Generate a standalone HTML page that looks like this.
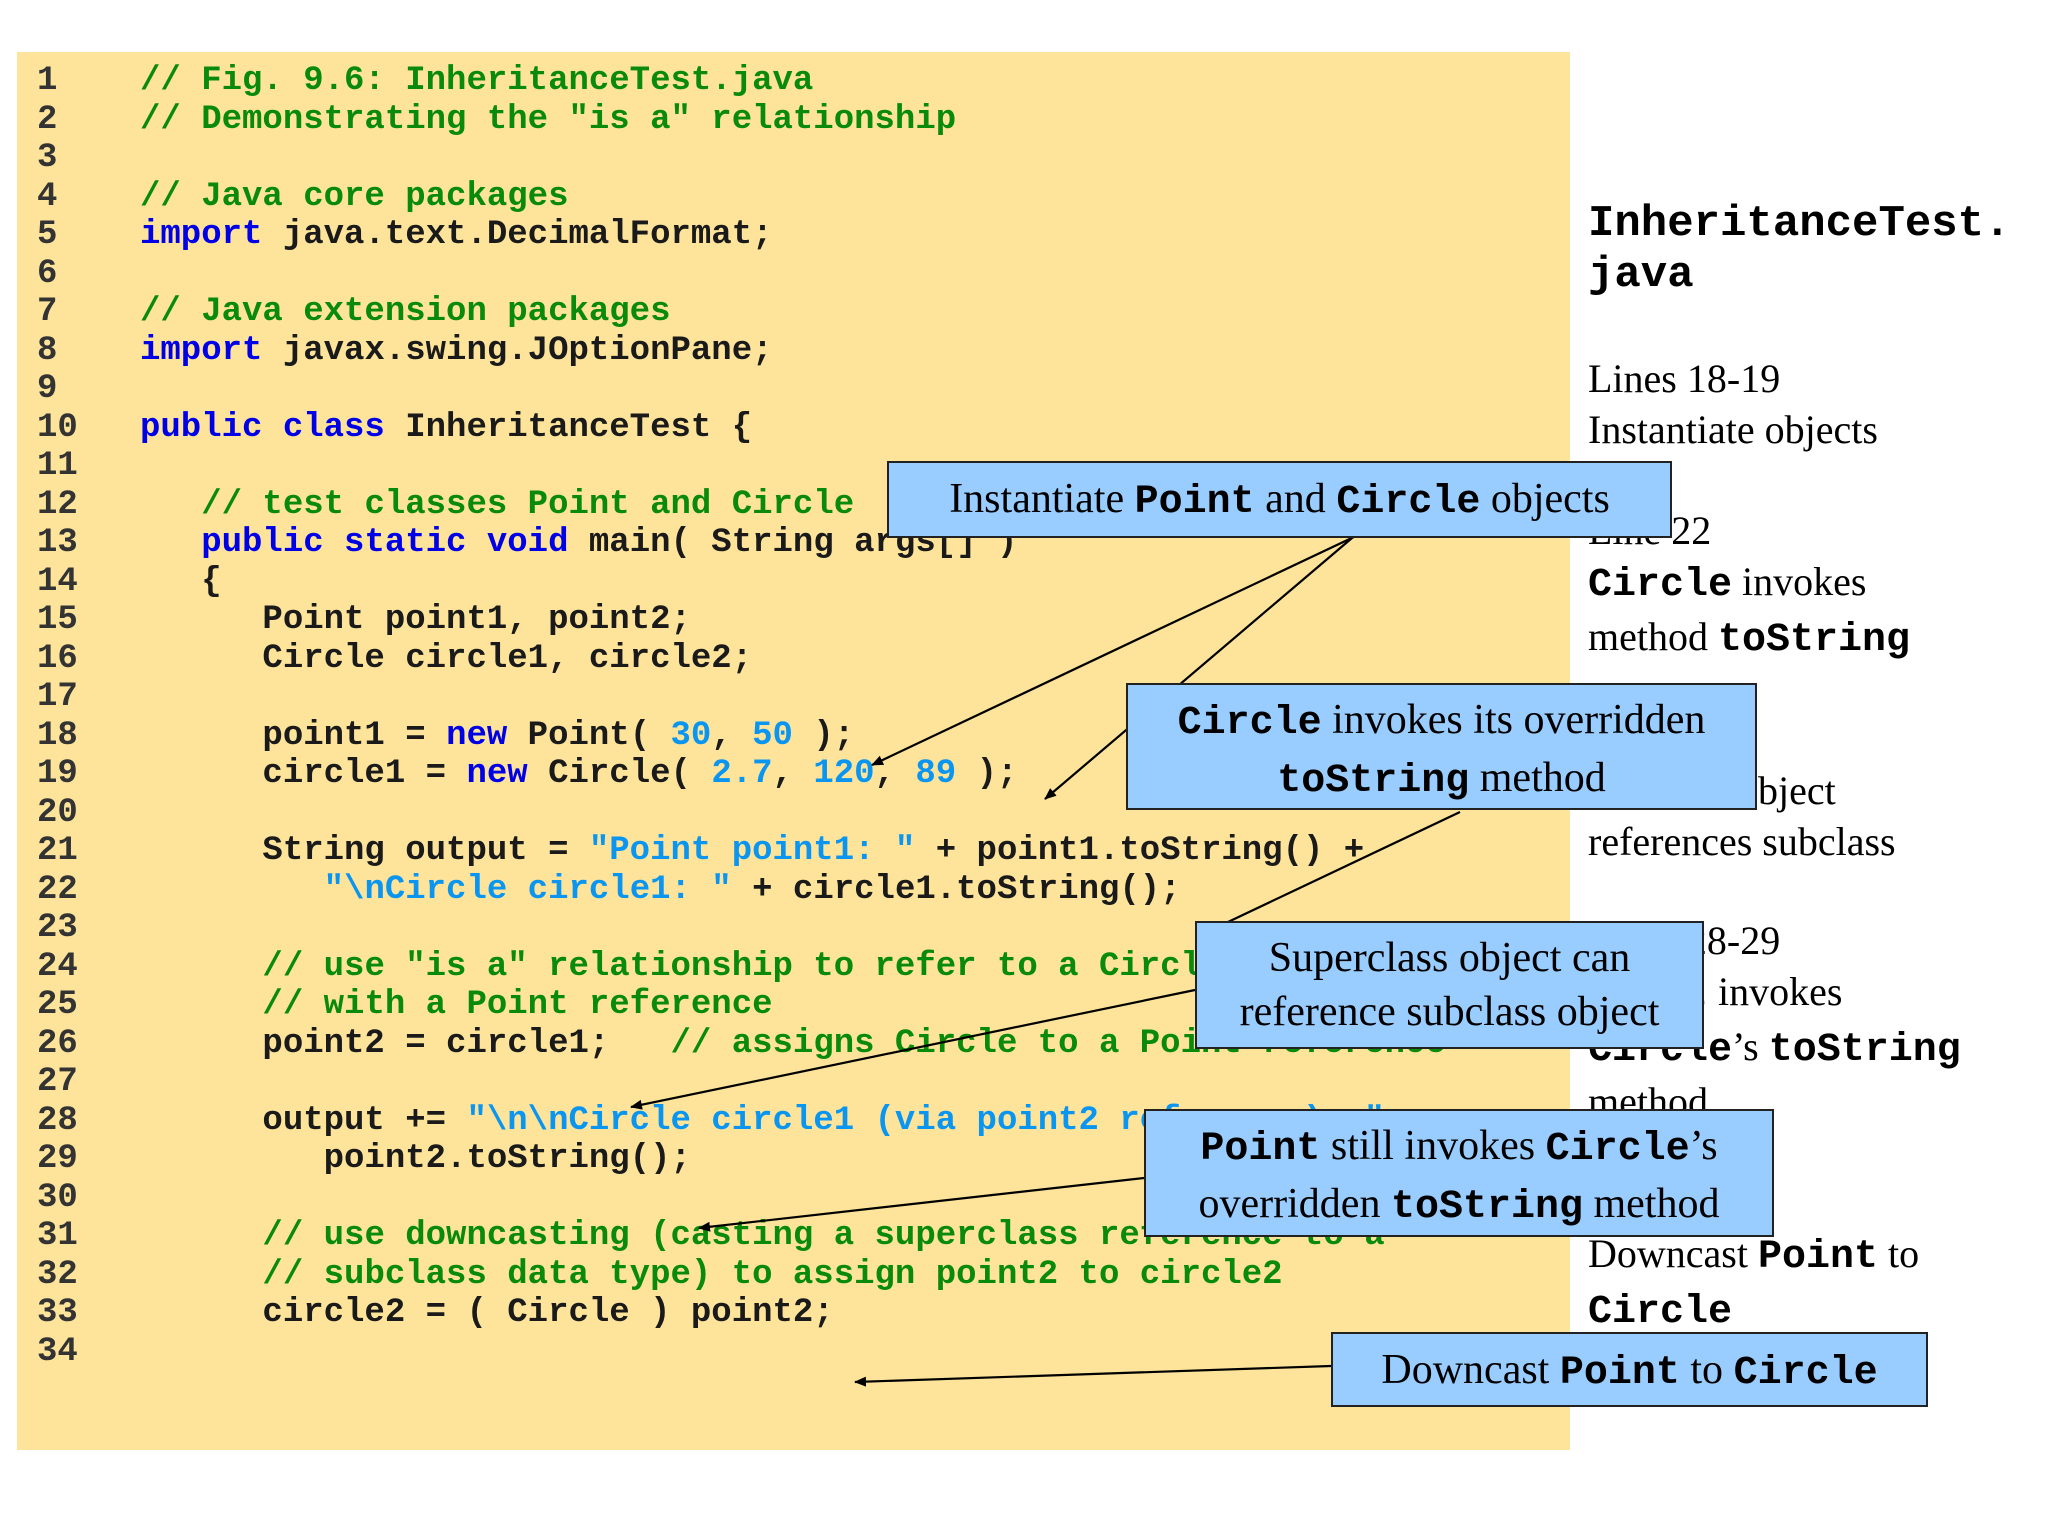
<!DOCTYPE html>
<html><head><meta charset="utf-8"><style>
body{margin:0;width:2048px;height:1536px;background:#fff;position:relative;overflow:hidden}
#panel{position:absolute;left:17px;top:52px;width:1553px;height:1398px;background:#fde49a}
.code{position:absolute;left:0;top:62px;font:bold 34px/38.5px "Liberation Mono",monospace;color:#1a1a1a}
.code div{height:38.5px;white-space:pre}
.n{color:#333;display:inline-block;width:140px;padding-left:37px;box-sizing:border-box}
.c{color:#0a8a0a}.k{color:#0000e6}.s{color:#0a96f0}
.side{position:absolute;left:1588px;font:40px/51px "Liberation Serif",serif;color:#000;white-space:pre}
.m{font-family:"Liberation Mono",monospace;font-weight:bold}
.box{position:absolute;background:#99ccff;border:2px solid #222;box-sizing:border-box;font:42px/54px "Liberation Serif",serif;text-align:center;white-space:nowrap}
.box .m{font-size:40px}
svg{position:absolute;left:0;top:0}
</style></head><body>
<div id="panel"></div>
<div class="code"><div><span class="n">1</span><span class="c">// Fig. 9.6: InheritanceTest.java</span></div><div><span class="n">2</span><span class="c">// Demonstrating the "is a" relationship</span></div><div><span class="n">3</span></div><div><span class="n">4</span><span class="c">// Java core packages</span></div><div><span class="n">5</span><span class="k">import</span> java.text.DecimalFormat;</div><div><span class="n">6</span></div><div><span class="n">7</span><span class="c">// Java extension packages</span></div><div><span class="n">8</span><span class="k">import</span> javax.swing.JOptionPane;</div><div><span class="n">9</span></div><div><span class="n">10</span><span class="k">public class</span> InheritanceTest {</div><div><span class="n">11</span></div><div><span class="n">12</span>   <span class="c">// test classes Point and Circle</span></div><div><span class="n">13</span>   <span class="k">public static void</span> main( String args[] )</div><div><span class="n">14</span>   {</div><div><span class="n">15</span>      Point point1, point2;</div><div><span class="n">16</span>      Circle circle1, circle2;</div><div><span class="n">17</span></div><div><span class="n">18</span>      point1 = <span class="k">new</span> Point( <span class="s">30</span>, <span class="s">50</span> );</div><div><span class="n">19</span>      circle1 = <span class="k">new</span> Circle( <span class="s">2.7</span>, <span class="s">120</span>, <span class="s">89</span> );</div><div><span class="n">20</span></div><div><span class="n">21</span>      String output = <span class="s">"Point point1: "</span> + point1.toString() +</div><div><span class="n">22</span>         <span class="s">"\nCircle circle1: "</span> + circle1.toString();</div><div><span class="n">23</span></div><div><span class="n">24</span>      <span class="c">// use "is a" relationship to refer to a Circle</span></div><div><span class="n">25</span>      <span class="c">// with a Point reference</span></div><div><span class="n">26</span>      point2 = circle1;   <span class="c">// assigns Circle to a Point reference</span></div><div><span class="n">27</span></div><div><span class="n">28</span>      output += <span class="s">"\n\nCircle circle1 (via point2 reference): "</span> +</div><div><span class="n">29</span>         point2.toString();</div><div><span class="n">30</span></div><div><span class="n">31</span>      <span class="c">// use downcasting (casting a superclass reference to a</span></div><div><span class="n">32</span>      <span class="c">// subclass data type) to assign point2 to circle2</span></div><div><span class="n">33</span>      circle2 = ( Circle ) point2;</div><div><span class="n">34</span></div></div>
<div class="side" style="top:199px;font:bold 44px/51px 'Liberation Mono',monospace">InheritanceTest.
java</div>
<div class="side" style="top:353px">Lines 18-19
Instantiate objects</div>
<div class="side" style="top:505px">Line 22
<span class="m">Circle</span> invokes
method <span class="m">toString</span></div>
<div class="side" style="top:714px">Line 26
Subclass object
references subclass</div>
<div class="side" style="top:915px">Lines 28-29
<span class="m">Point</span> invokes
<span class="m">Circle</span>’s <span class="m">toString</span>
method</div>
<div class="side" style="top:1177px">Line 33
Downcast <span class="m">Point</span> to
<span class="m">Circle</span></div>
<svg width="2048" height="1536">
<defs><marker id="a" markerWidth="12" markerHeight="10" refX="11" refY="5" orient="auto" markerUnits="userSpaceOnUse"><path d="M0,0L12,5L0,10z" fill="#000"/></marker></defs>
<g stroke="#000" stroke-width="2.2" fill="none">
<line x1="1358" y1="535" x2="872" y2="765" marker-end="url(#a)"/>
<line x1="1352" y1="538" x2="1045" y2="799" marker-end="url(#a)"/>
<line x1="1460" y1="812" x2="1228" y2="922"/>
<line x1="1195" y1="990" x2="631" y2="1107" marker-end="url(#a)"/>
<line x1="1144" y1="1178" x2="699" y2="1228" marker-end="url(#a)"/>
<line x1="1331" y1="1366" x2="855" y2="1382" marker-end="url(#a)"/>
</g></svg>
<div class="box" style="left:887px;top:461px;width:785px;height:77px;padding-top:9px">Instantiate <span class="m">Point</span> and <span class="m">Circle</span> objects</div>
<div class="box" style="left:1126px;top:683px;width:631px;height:127px;padding-top:8px"><span class="m">Circle</span> invokes its overridden<br><span class="m">toString</span> method</div>
<div class="box" style="left:1195px;top:921px;width:509px;height:128px;padding-top:8px">Superclass object can<br>reference subclass object</div>
<div class="box" style="left:1144px;top:1109px;width:630px;height:128px;padding-top:8px"><span class="m">Point</span> still invokes <span class="m">Circle</span>’s<br>overridden <span class="m">toString</span> method</div>
<div class="box" style="left:1331px;top:1332px;width:597px;height:75px;padding-top:9px">Downcast <span class="m">Point</span> to <span class="m">Circle</span></div>
</body></html>
